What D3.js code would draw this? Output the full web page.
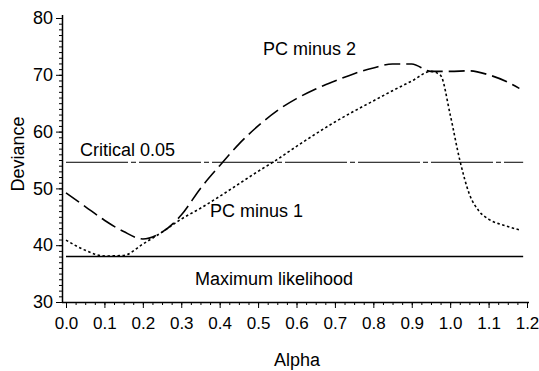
<!DOCTYPE html>
<html>
<head>
<meta charset="utf-8">
<script src="https://cdn.jsdelivr.net/npm/d3@7"></script>
<style>
  body { margin: 0; background: #fff; }
  svg { display: block; font-family: "Liberation Sans", Arial, Helvetica, sans-serif; }
  .axis path, .axis line { stroke: #000; }
  .axis text { fill: #000; font-size: 17px; }
</style>
</head>
<body>
<div id="chart"></div>
<script>
// alpha grid for the two profile curves
const alphaPC2 = [0, 0.05, 0.1, 0.15, 0.2, 0.25, 0.3, 0.35, 0.4, 0.45, 0.5, 0.55, 0.6, 0.65, 0.7, 0.75, 0.8, 0.85, 0.9, 0.95, 1.0, 1.05, 1.1, 1.15, 1.18];
const devPC2   = [49.2, 46.8, 44.4, 42.4, 41.1, 42.3, 45.3, 50.0, 54.0, 57.8, 61.0, 63.7, 65.8, 67.5, 68.9, 70.2, 71.2, 71.9, 71.9, 70.6, 70.6, 70.7, 70.0, 68.7, 67.6];

const alphaPC1 = [0, 0.05, 0.1, 0.15, 0.2, 0.25, 0.3, 0.35, 0.4, 0.45, 0.5, 0.55, 0.6, 0.65, 0.7, 0.75, 0.8, 0.85, 0.9, 0.95, 0.975, 1.0, 1.025, 1.05, 1.075, 1.1, 1.15, 1.18];
const devPC1   = [40.9, 39.1, 38.1, 38.2, 40.2, 42.3, 44.6, 46.5, 48.6, 50.8, 53.0, 55.1, 57.4, 59.6, 61.7, 63.6, 65.4, 67.2, 68.9, 70.6, 69.9, 63.0, 55.0, 49.0, 46.0, 44.6, 43.3, 42.7];

// reference lines
const maxLikelihood = 38.0;
const critical05 = 54.6;
const refSpan = [0, 1.19];

const xTicks = [0, 0.1, 0.2, 0.3, 0.4, 0.5, 0.6, 0.7, 0.8, 0.9, 1.0, 1.1, 1.2];
const yTicks = [30, 40, 50, 60, 70, 80];

const width = 539, height = 371;
const left = 62, bottom = 302;

const svg = d3.select("#chart").append("svg")
    .attr("width", width)
    .attr("height", height);

const x = d3.scaleLinear().domain([0, 1.2]).range([66, 527]);
const y = d3.scaleLinear().domain([30, 80]).range([bottom, 18]);

// minor ticks first so the major ones draw on top
svg.append("g")
    .attr("class", "axis")
    .attr("transform", "translate(0," + bottom + ")")
    .call(d3.axisBottom(x).tickValues(d3.range(0, 1.2001, 0.025)).tickSize(3).tickFormat(""))
    .call(g => g.select(".domain").remove());

svg.append("g")
    .attr("class", "axis")
    .attr("transform", "translate(" + left + ",0)")
    .call(d3.axisLeft(y).tickValues(d3.range(30, 80.5, 1)).tickSize(3).tickFormat(""))
    .call(g => g.select(".domain").remove());

// x axis
const xAxis = svg.append("g")
    .attr("class", "axis")
    .attr("transform", "translate(0," + bottom + ")")
    .call(d3.axisBottom(x).tickValues(xTicks).tickSize(6).tickPadding(9).tickFormat(d3.format(".1f")));
xAxis.select(".domain").attr("d", "M" + left + ",0.5H529").attr("stroke-width", 1.5);

// y axis
const yAxis = svg.append("g")
    .attr("class", "axis")
    .attr("transform", "translate(" + left + ",0)")
    .call(d3.axisLeft(y).tickValues(yTicks).tickSize(6).tickPadding(3));
yAxis.select(".domain").attr("d", "M0.5,15V" + bottom).attr("stroke-width", 1.5);
yAxis.selectAll("text").style("font-size", "18px");

// axis titles
svg.append("text")
    .attr("x", 297).attr("y", 366)
    .attr("text-anchor", "middle")
    .style("font-size", "18px")
    .text("Alpha");

svg.append("text")
    .attr("transform", "translate(24,154) rotate(-90)")
    .attr("text-anchor", "middle")
    .style("font-size", "18px")
    .text("Deviance");

// horizontal reference lines
svg.append("line")
    .attr("x1", x(refSpan[0])).attr("x2", x(refSpan[1]))
    .attr("y1", y(maxLikelihood)).attr("y2", y(maxLikelihood))
    .attr("stroke", "#000").attr("stroke-width", 1.6);

svg.append("line")
    .attr("x1", x(refSpan[0])).attr("x2", x(refSpan[1]))
    .attr("y1", y(critical05)).attr("y2", y(critical05))
    .attr("stroke", "#000").attr("stroke-width", 1)
    .attr("stroke-dasharray", "62,3,5,3");

// profile curves
const line = d3.line()
    .x(d => x(d[0]))
    .y(d => y(d[1]))
    .curve(d3.curveMonotoneX);

svg.append("path")
    .datum(d3.zip(alphaPC2, devPC2))
    .attr("d", line)
    .attr("fill", "none")
    .attr("stroke", "#000")
    .attr("stroke-width", 1.6)
    .attr("stroke-dasharray", "16,6");

svg.append("path")
    .datum(d3.zip(alphaPC1, devPC1))
    .attr("d", line)
    .attr("fill", "none")
    .attr("stroke", "#000")
    .attr("stroke-width", 1.6)
    .attr("stroke-dasharray", "2.5,2.5");

// curve labels
const labels = [
    {text: "Critical 0.05", x: 80, y: 156},
    {text: "PC minus 2", x: 263, y: 55},
    {text: "PC minus 1", x: 210, y: 217},
    {text: "Maximum likelihood", x: 195, y: 285}
];
svg.selectAll(".lbl")
    .data(labels)
    .enter()
    .append("text")
    .attr("class", "lbl")
    .attr("x", d => d.x)
    .attr("y", d => d.y)
    .style("font-size", "18px")
    .text(d => d.text);
</script>
</body>
</html>
